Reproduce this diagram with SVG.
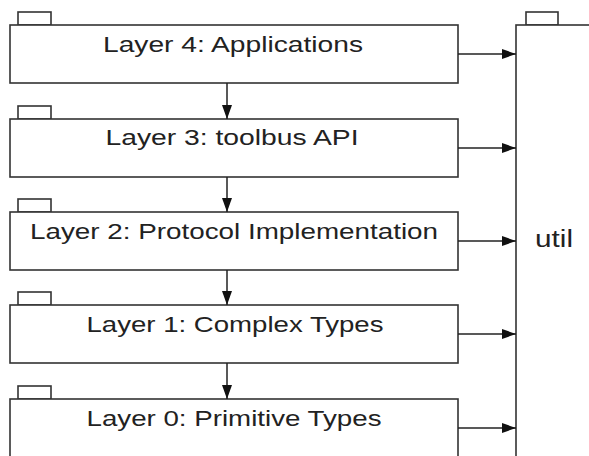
<svg xmlns="http://www.w3.org/2000/svg" width="589" height="456" viewBox="0 0 589 456">
<style>
.box{fill:#fff;stroke:#333;stroke-width:1.6}
.lbl{font-family:"Liberation Sans",Arial,sans-serif;font-size:22px;fill:#222;text-anchor:middle}
.conn{stroke:#222;stroke-width:1.5;fill:none}
</style>
<defs>
<marker id="ah" viewBox="0 0 14 10" refX="14" refY="5" markerWidth="14" markerHeight="10" markerUnits="userSpaceOnUse" orient="auto">
<path d="M0,0 L14,5 L0,10 Z" fill="#111"/>
</marker>
</defs>
<rect width="589" height="456" fill="#fff"/>
<g id="util">
<rect class="box" x="526" y="12" width="32" height="13"/>
<rect class="box" x="516" y="25" width="90" height="450"/>
<text class="lbl" x="554" y="247" textLength="38" lengthAdjust="spacingAndGlyphs" style="font-size:23px">util</text>
</g>
<g id="layer4">
<rect class="box" x="18" y="12" width="33" height="13"/>
<rect class="box" x="10" y="25" width="448" height="58"/>
<text class="lbl" x="233" y="52" textLength="260" lengthAdjust="spacingAndGlyphs">Layer 4: Applications</text>
</g>
<g id="layer3">
<rect class="box" x="18" y="106" width="33" height="13"/>
<rect class="box" x="10" y="119" width="448" height="58"/>
<text class="lbl" x="232" y="145" textLength="253" lengthAdjust="spacingAndGlyphs">Layer 3: toolbus API</text>
</g>
<g id="layer2">
<rect class="box" x="18" y="199" width="33" height="13"/>
<rect class="box" x="10" y="212" width="448" height="58"/>
<text class="lbl" x="234" y="239" textLength="408" lengthAdjust="spacingAndGlyphs">Layer 2: Protocol Implementation</text>
</g>
<g id="layer1">
<rect class="box" x="18" y="292" width="33" height="13"/>
<rect class="box" x="10" y="305" width="448" height="58"/>
<text class="lbl" x="235" y="332" textLength="297" lengthAdjust="spacingAndGlyphs">Layer 1: Complex Types</text>
</g>
<g id="layer0">
<rect class="box" x="18" y="386" width="33" height="13"/>
<rect class="box" x="10" y="399" width="448" height="80"/>
<text class="lbl" x="234" y="426" textLength="295" lengthAdjust="spacingAndGlyphs">Layer 0: Primitive Types</text>
</g>
<g id="connectors">
<line class="conn" x1="227" y1="83" x2="227" y2="119" marker-end="url(#ah)"/>
<line class="conn" x1="227" y1="177" x2="227" y2="212" marker-end="url(#ah)"/>
<line class="conn" x1="227" y1="270" x2="227" y2="305" marker-end="url(#ah)"/>
<line class="conn" x1="227" y1="363" x2="227" y2="399" marker-end="url(#ah)"/>
<line class="conn" x1="458" y1="54" x2="516" y2="54" marker-end="url(#ah)"/>
<line class="conn" x1="458" y1="148" x2="516" y2="148" marker-end="url(#ah)"/>
<line class="conn" x1="458" y1="241" x2="516" y2="241" marker-end="url(#ah)"/>
<line class="conn" x1="458" y1="334" x2="516" y2="334" marker-end="url(#ah)"/>
<line class="conn" x1="458" y1="428" x2="516" y2="428" marker-end="url(#ah)"/>
</g>
</svg>
